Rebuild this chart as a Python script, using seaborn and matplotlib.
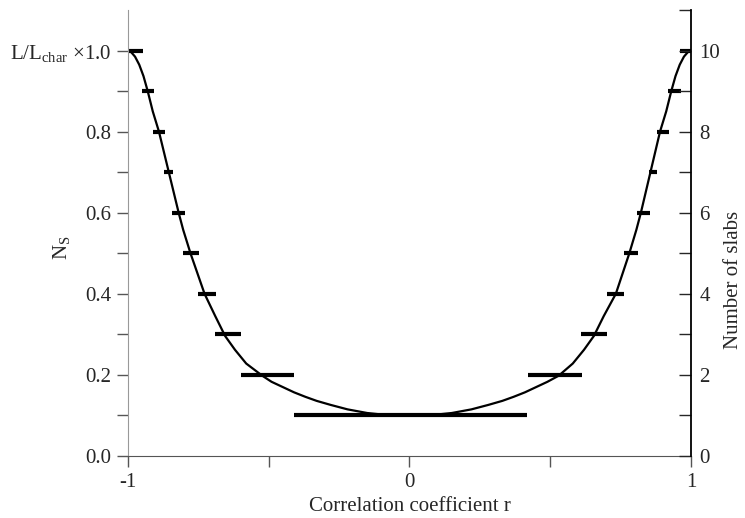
import matplotlib
matplotlib.use("Agg")
import matplotlib.pyplot as plt
import seaborn as sns
import pandas as pd
from matplotlib.ticker import MultipleLocator, FixedLocator

# ---- data ----
curve_r = [-1.0, -0.99, -0.975, -0.96, -0.945, -0.93, -0.912, -0.89, -0.855, -0.82,
           -0.804, -0.778, -0.728, -0.69, -0.655, -0.62, -0.58, -0.523, -0.49,
           -0.45, -0.41, -0.37, -0.33, -0.28, -0.22, -0.15, -0.08, 0.0,
           0.08, 0.15, 0.22, 0.28, 0.33, 0.37, 0.41, 0.45, 0.49, 0.53, 0.58,
           0.62, 0.655, 0.69, 0.733, 0.781, 0.806, 0.822, 0.856, 0.89, 0.912,
           0.93, 0.945, 0.96, 0.975, 0.99, 1.0]
curve_ns = [1.0, 0.997, 0.985, 0.965, 0.937, 0.90, 0.85, 0.80, 0.70, 0.60,
            0.558, 0.50, 0.40, 0.345, 0.296, 0.262, 0.228, 0.198, 0.183,
            0.17, 0.157, 0.146, 0.136, 0.126, 0.115, 0.106, 0.101, 0.1,
            0.101, 0.106, 0.115, 0.126, 0.136, 0.146, 0.157, 0.17, 0.183, 0.198, 0.228,
            0.262, 0.296, 0.345, 0.40, 0.50, 0.558, 0.60, 0.70, 0.80, 0.85,
            0.90, 0.937, 0.965, 0.985, 0.997, 1.0]

# slab-count ranges (levels Ns = slabs/10)
slabs = [1, 2, 3, 4, 5, 6, 7, 8, 9, 10]
left_start = [-0.41, -0.60, -0.69, -0.75, -0.804, -0.842, -0.871, -0.91, -0.951, -0.996]
left_end = [0.417, -0.409, -0.598, -0.687, -0.748, -0.798, -0.839, -0.87, -0.908, -0.948]
right_start = [None, 0.42, 0.61, 0.70, 0.762, 0.809, 0.852, 0.88, 0.919, 0.961]
right_end = [None, 0.614, 0.703, 0.762, 0.813, 0.853, 0.881, 0.922, 0.963, 1.0]

left_ticks = [0.0, 0.2, 0.4, 0.6, 0.8, 1.0]
left_labels = ["0.0", "0.2", "0.4", "0.6", "0.8", r"L/L$\mathregular{_{char}}$ $\times$1.0"]
right_ticks = [0, 2, 4, 6, 8, 10]
x_ticks = [-1, 0, 1]
x_labels = ["-1", "0", "1"]

# ---- plotting ----
sns.set_style("ticks")
plt.rcParams["font.family"] = ["Liberation Serif", "DejaVu Serif"]
plt.rcParams["mathtext.fontset"] = "custom"
plt.rcParams["mathtext.rm"] = "Liberation Serif"

fig = plt.figure(figsize=(7.45, 5.18), dpi=100)
ax = fig.add_axes([0.1718, 0.1197, 0.7557, 0.861])

df = pd.DataFrame({"r": curve_r, "ns": curve_ns})
sns.lineplot(data=df, x="r", y="ns", ax=ax, color="black", linewidth=1.6,
             sort=False, estimator=None)

ys = [s / 10 for s in slabs]
ax.hlines(ys, left_start, left_end, color="black", linewidth=3.0)
rs = [(y, a, b) for y, a, b in zip(ys, right_start, right_end) if a is not None]
ax.hlines([t[0] for t in rs], [t[1] for t in rs], [t[2] for t in rs],
          color="black", linewidth=3.0)

ax.set_xlim(-1, 1)
ax.set_ylim(0, 1.1)
ax.xaxis.set_major_locator(FixedLocator(x_ticks))
ax.set_xticklabels(x_labels)
ax.xaxis.set_minor_locator(FixedLocator([-0.5, 0.5]))
ax.yaxis.set_major_locator(FixedLocator(left_ticks))
ax.set_yticklabels(left_labels)
ax.yaxis.set_minor_locator(FixedLocator([0.1, 0.3, 0.5, 0.7, 0.9]))

ax.tick_params(axis="both", which="major", direction="out", length=8, width=1,
               labelsize=15, color="#555555", pad=4)
ax.tick_params(axis="both", which="minor", direction="out", length=8, width=1,
               color="#555555")
ax.set_xlabel("Correlation coefficient r", fontsize=15, labelpad=4)
ax.set_ylabel(r"N$\mathregular{_S}$", fontsize=15)
ax.yaxis.set_label_coords(-0.10, 0.466)

ax2 = ax.twinx()
ax2.set_ylim(0, 11)
ax2.yaxis.set_major_locator(FixedLocator(right_ticks))
ax2.yaxis.set_minor_locator(MultipleLocator(1))
ax2.tick_params(axis="y", which="major", direction="in", length=9, width=1,
                labelsize=15, pad=6)
ax2.tick_params(axis="y", which="minor", direction="in", length=9, width=1)
ax2.set_ylabel("Number of slabs", fontsize=15)
ax2.yaxis.set_label_coords(1.058, 0.395)

for a in (ax, ax2):
    a.spines["top"].set_visible(False)
ax.spines["right"].set_visible(False)
ax2.spines["left"].set_visible(False)
ax2.spines["bottom"].set_visible(False)
ax.spines["left"].set_color("#999999")
ax.spines["bottom"].set_color("#555555")
ax2.spines["right"].set_color("black")
ax2.spines["right"].set_linewidth(1.3)

fig.savefig("out.png", dpi=100)
